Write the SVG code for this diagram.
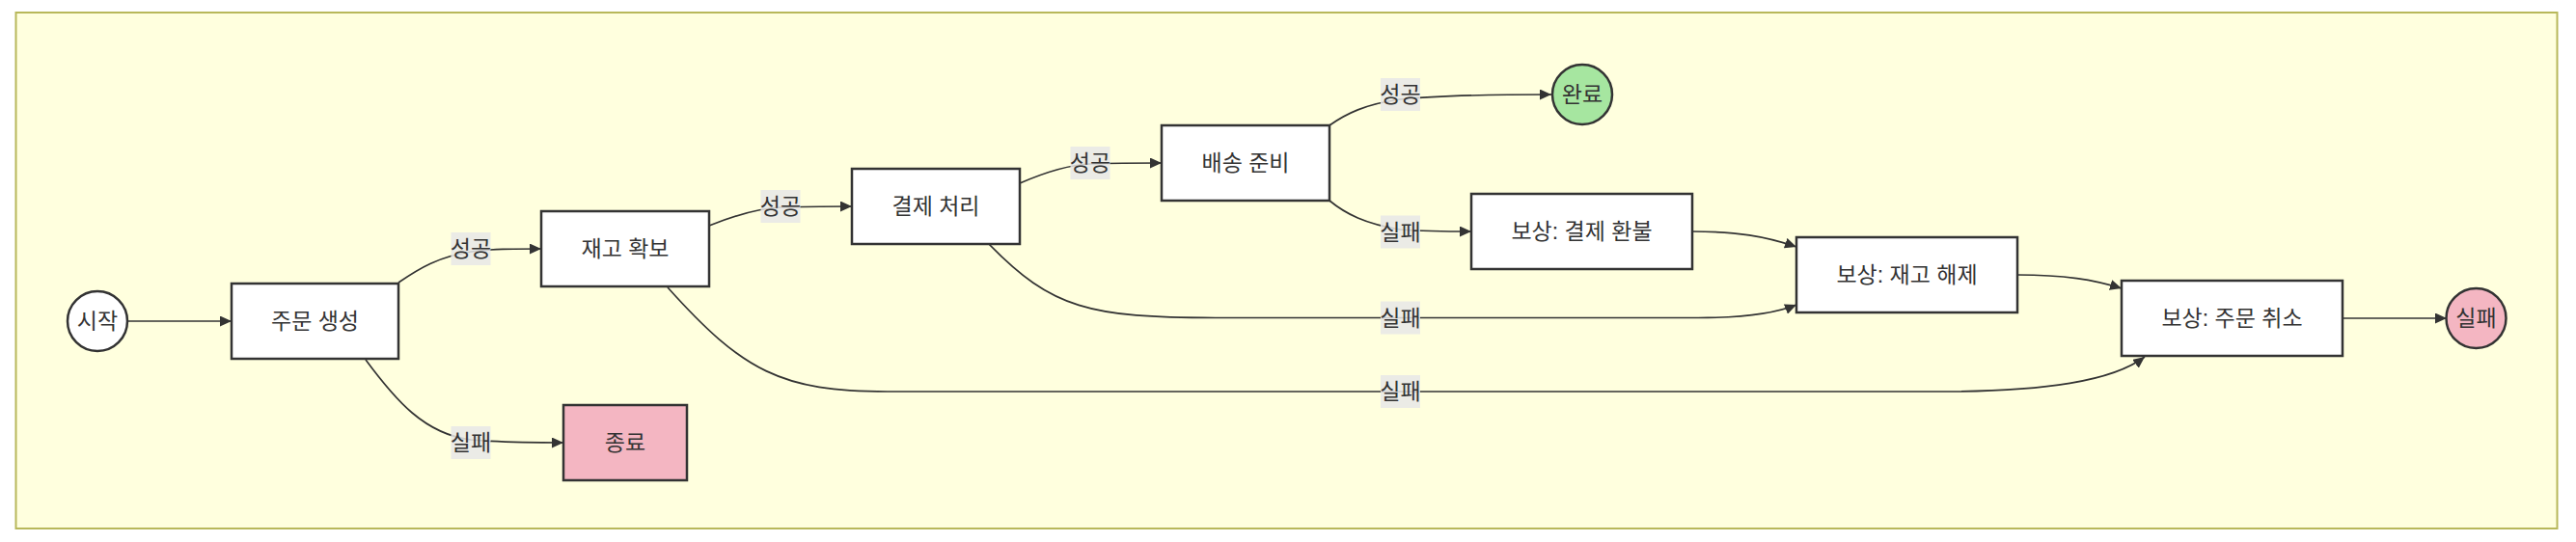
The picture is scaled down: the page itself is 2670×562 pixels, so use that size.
<svg xmlns="http://www.w3.org/2000/svg" width="2670" height="562" viewBox="0 0 2670 562">
<style>
.bg{fill:#ffffde;stroke:#b8b85a;stroke-width:2}
.node rect,.node circle{stroke:#333;stroke-width:2.5}
.plain{fill:#ffffff}
.ok{fill:#a6e6a0}
.bad{fill:#f4b6c2}
.t{font-family:"Liberation Sans","Noto Sans CJK KR",sans-serif;font-size:23px;fill:#333;text-anchor:middle;dominant-baseline:central}
.edge{fill:none;stroke:#333;stroke-width:1.7}
.lbl rect{fill:#e8e8e8;fill-opacity:0.85}
</style>
<defs>
<marker id="arr" viewBox="0 0 12 11" refX="12" refY="5.5" markerWidth="12" markerHeight="11" markerUnits="userSpaceOnUse" orient="auto">
<path d="M0,0 L12,5.5 L0,11 z" fill="#333"/>
</marker>
</defs>
<rect class="bg" x="16.5" y="13" width="2634" height="535"/>
<g id="connectors">
<path class="edge" marker-end="url(#arr)" d="M132,333 L240,333"/>
<path class="edge" marker-end="url(#arr)" d="M413,293 C435,278 455,266 488,261 C510,258 530,258 561,258"/>
<path class="edge" marker-end="url(#arr)" d="M379,373 C410,415 440,450 488,456 C520,459 550,459 584,459"/>
<path class="edge" marker-end="url(#arr)" d="M735,234 C760,224 785,216 809,215 C835,214 860,214 883,214"/>
<path class="edge" marker-end="url(#arr)" d="M692,298 C770,385 810,406 920,406 L2010,406 C2120,406 2190,395 2223,370"/>
<path class="edge" marker-end="url(#arr)" d="M1057,190 C1080,180 1105,171 1130,170 C1160,169 1185,169 1204,169"/>
<path class="edge" marker-end="url(#arr)" d="M1025,253 C1090,320 1130,329.5 1260,329.5 L1760,329.5 C1810,329.5 1840,325 1862,316"/>
<path class="edge" marker-end="url(#arr)" d="M1378,130 C1395,118 1415,108 1451,103 C1500,98 1560,98 1608,98"/>
<path class="edge" marker-end="url(#arr)" d="M1378,208 C1395,222 1415,232 1451,238 C1480,240 1500,240 1525,240"/>
<path class="edge" marker-end="url(#arr)" d="M1754,240 C1800,240 1830,245 1862,256"/>
<path class="edge" marker-end="url(#arr)" d="M2091,285 C2140,285 2170,290 2199,299"/>
<path class="edge" marker-end="url(#arr)" d="M2428,330 L2536,330"/>
<g class="lbl">
<rect x="467.5" y="241" width="41" height="34"/><text class="t" x="488" y="258">성공</text>
<rect x="467.5" y="442" width="41" height="34"/><text class="t" x="488" y="459">실패</text>
<rect x="788.5" y="197" width="41" height="34"/><text class="t" x="809" y="214">성공</text>
<rect x="1109.5" y="152" width="41" height="34"/><text class="t" x="1130" y="169">성공</text>
<rect x="1431" y="81" width="41" height="34"/><text class="t" x="1451.5" y="98">성공</text>
<rect x="1431" y="223.5" width="41" height="34"/><text class="t" x="1451.5" y="240.5">실패</text>
<rect x="1431" y="312.5" width="41" height="34"/><text class="t" x="1451.5" y="329.5">실패</text>
<rect x="1431" y="389" width="41" height="34"/><text class="t" x="1451.5" y="406">실패</text>
</g>
</g>
<g id="start" class="node"><circle class="plain" cx="101" cy="333" r="31"/><text class="t" x="101" y="333">시작</text></g>
<g id="create" class="node"><rect class="plain" x="240" y="294" width="173" height="78"/><text class="t" x="326.5" y="333">주문 생성</text></g>
<g id="reserve" class="node"><rect class="plain" x="561" y="219" width="174" height="78"/><text class="t" x="648" y="258">재고 확보</text></g>
<g id="end" class="node"><rect class="bad" x="584" y="420" width="128" height="78"/><text class="t" x="648" y="459">종료</text></g>
<g id="pay" class="node"><rect class="plain" x="883" y="175" width="174" height="78"/><text class="t" x="970" y="214">결제 처리</text></g>
<g id="ship" class="node"><rect class="plain" x="1204" y="130" width="174" height="78"/><text class="t" x="1291" y="169">배송 준비</text></g>
<g id="done" class="node"><circle class="ok" cx="1640" cy="98" r="31"/><text class="t" x="1640" y="98">완료</text></g>
<g id="refund" class="node"><rect class="plain" x="1525" y="201" width="229" height="78"/><text class="t" x="1639.5" y="240">보상: 결제 환불</text></g>
<g id="release" class="node"><rect class="plain" x="1862" y="246" width="229" height="78"/><text class="t" x="1976.5" y="285">보상: 재고 해제</text></g>
<g id="cancel" class="node"><rect class="plain" x="2199" y="291" width="229" height="78"/><text class="t" x="2313.5" y="330">보상: 주문 취소</text></g>
<g id="fail" class="node"><circle class="bad" cx="2566.5" cy="330" r="31"/><text class="t" x="2566.5" y="330">실패</text></g>
</svg>
